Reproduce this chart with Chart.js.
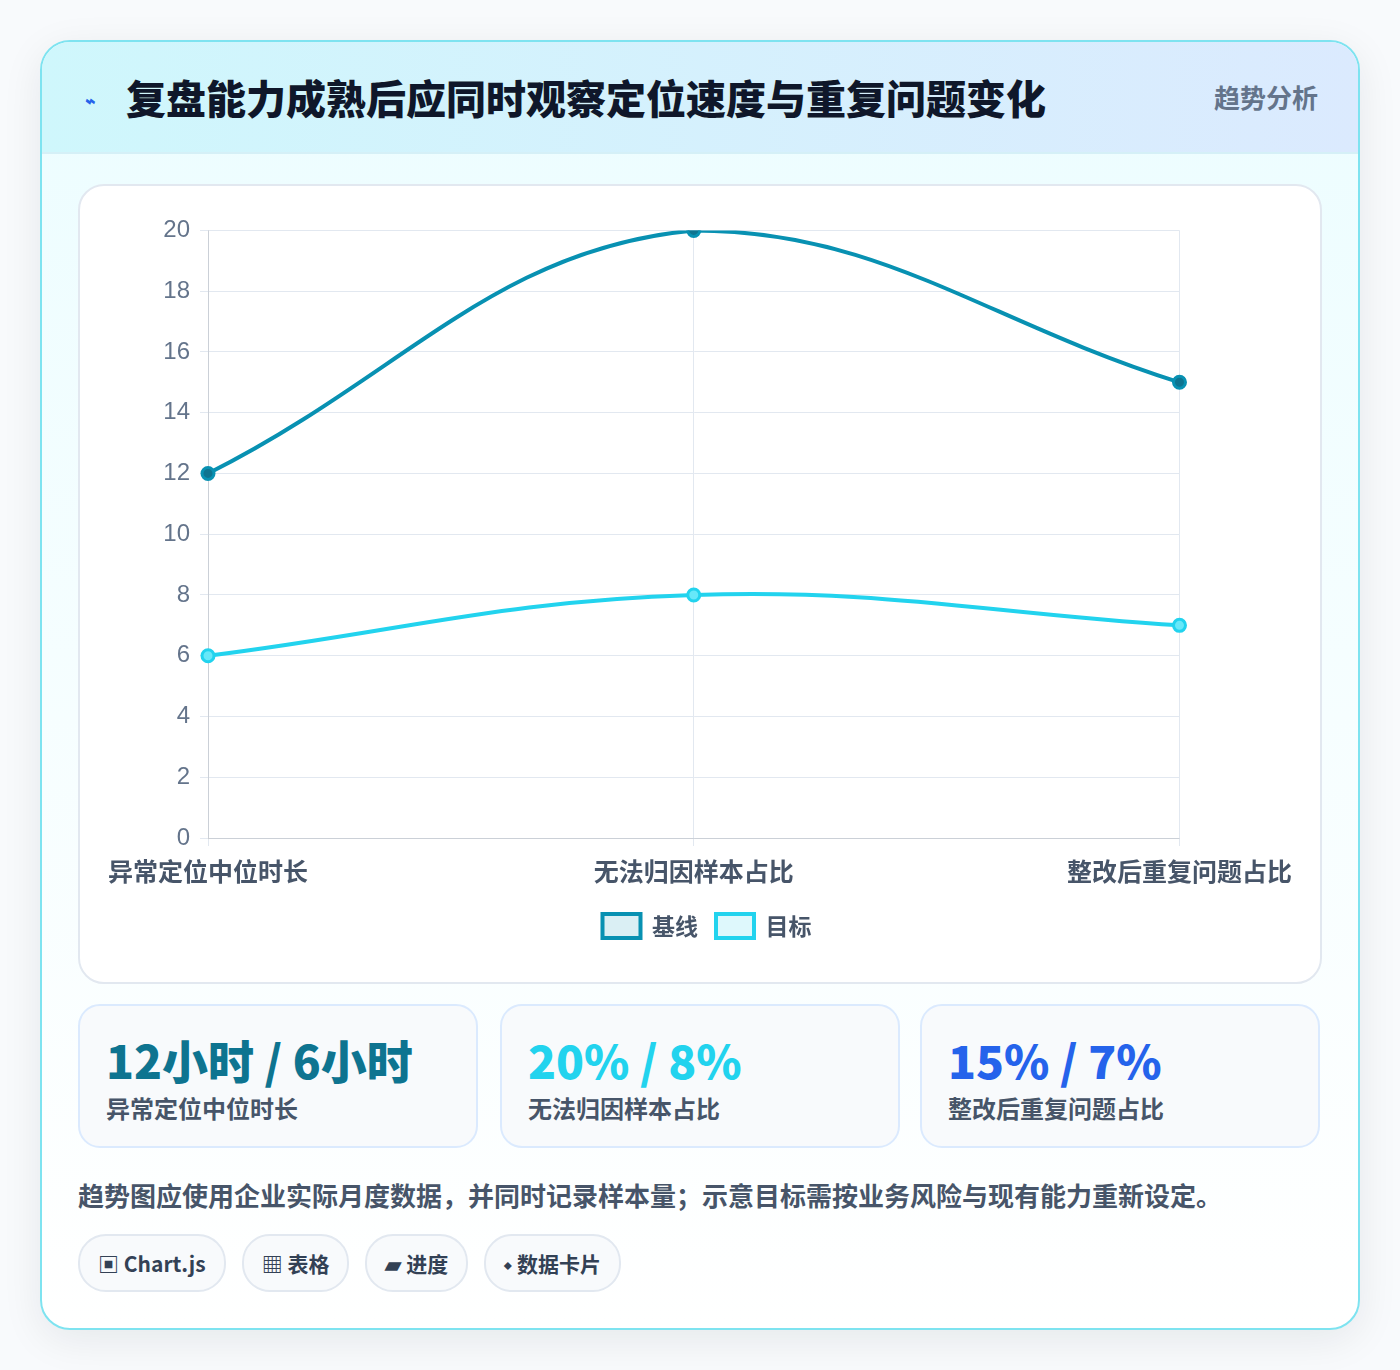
<!DOCTYPE html>
<html><head><meta charset="utf-8">
<script src="https://cdn.jsdelivr.net/npm/chart.js@4"></script>
<style>
body{margin:0;background:#f8fafc;font-family:"Noto Sans CJK SC","Noto Sans",sans-serif;width:1400px;height:1370px}
.card{position:absolute;left:40px;top:40px;width:1316px;height:1286px;border:2px solid #7ee3f0;border-radius:30px;background:linear-gradient(#ecfdff,#ffffff);box-shadow:0 10px 40px rgba(15,23,42,.08);overflow:hidden}
.head{height:110px;background:linear-gradient(90deg,#cff7fc,#dbeafe);border-bottom:2px solid #d5f0f7;position:relative}
.head h1{position:absolute;left:84px;top:26px;margin:0;font-size:40px;font-weight:900;color:#0f172a;letter-spacing:0}
.head .ic{position:absolute;left:44px;top:44px;color:#2563eb;font-size:18px;font-weight:700;transform:skewX(-20deg)}
.head .tag{position:absolute;right:40px;top:36px;font-size:26px;font-weight:700;color:#64748b}
.box{position:absolute;left:36px;top:142px;width:1240px;height:796px;border:2px solid #e2e8f0;border-radius:26px;background:#fff}
.cw{position:absolute;left:18px;top:20px;width:1204px;height:760px}
.kpi{position:absolute;top:962px;width:396px;height:140px;border:2px solid #dbeafe;border-radius:22px;background:#f8fafc}
.kpi b{position:absolute;left:26px;top:20px;font-size:46px;font-weight:900}
.kpi span{position:absolute;left:26px;top:84px;font-size:24px;font-weight:700;color:#475569}
.note{position:absolute;left:36px;top:1134px;font-size:26px;font-weight:700;color:#475569}
.chips{position:absolute;left:36px;top:1192px;display:flex;gap:16px}
.chips div{height:54px;padding:0 18px;border:2px solid #e2e8f0;border-radius:28px;background:#f8fafc;font-size:21px;font-weight:700;color:#334155;line-height:54px}
</style></head><body>
<div class="card">
 <div class="head"><span class="ic">⌁</span><h1>复盘能力成熟后应同时观察定位速度与重复问题变化</h1><span class="tag">趋势分析</span></div>
 <div class="box"><div class="cw"><canvas id="c"></canvas></div></div>
 <div class="kpi" style="left:36px"><b style="color:#0e7490">12小时 / 6小时</b><span>异常定位中位时长</span></div>
 <div class="kpi" style="left:458px"><b style="color:#22d3ee">20% / 8%</b><span>无法归因样本占比</span></div>
 <div class="kpi" style="left:878px"><b style="color:#2563eb">15% / 7%</b><span>整改后重复问题占比</span></div>
 <div class="note">趋势图应使用企业实际月度数据，并同时记录样本量；示意目标需按业务风险与现有能力重新设定。</div>
 <div class="chips"><div>▣ Chart.js</div><div>▦ 表格</div><div>▰ 进度</div><div>⬩ 数据卡片</div></div>
</div>
<script>
const categories = ['异常定位中位时长', '无法归因样本占比', '整改后重复问题占比'];
const baseline = [12, 20, 15];
const target = [6, 8, 7];
const yTicks = [0, 2, 4, 6, 8, 10, 12, 14, 16, 18, 20];

new Chart(document.getElementById('c'), {
  type: 'line',
  data: {
    labels: categories,
    datasets: [
      { label: '基线', data: baseline, borderColor: '#0891b2', backgroundColor: 'rgba(8,145,178,0.15)', borderWidth: 4, tension: 0.4, pointRadius: 6, pointBorderWidth: 3, pointBackgroundColor: '#0e7490', pointBorderColor: '#0891b2' },
      { label: '目标', data: target, borderColor: '#22d3ee', backgroundColor: 'rgba(34,211,238,0.15)', borderWidth: 4, tension: 0.4, pointRadius: 6, pointBorderWidth: 3, pointBackgroundColor: '#67e8f9', pointBorderColor: '#22d3ee' }
    ]
  },
  options: {
    responsive: true, maintainAspectRatio: false, animation: false,
    layout: { padding: { left: 44, right: 30, top: 14, bottom: 18 } },
    plugins: {
      legend: { position: 'bottom', labels: { padding: 18, boxWidth: 38, boxHeight: 24, color: '#475569', font: { size: 23, weight: 'bold', family: 'Noto Sans CJK SC' } } }
    },
    scales: {
      x: { grid: { color: '#e2e8f0' }, ticks: { padding: 10, color: '#475569', font: { size: 25, weight: 'bold', family: 'Noto Sans CJK SC' } } },
      y: { min: 0, max: 20, afterBuildTicks: a => { a.ticks = yTicks.map(v => ({ value: v })); }, grid: { color: '#e2e8f0' }, ticks: { padding: 10, color: '#64748b', font: { size: 24 } } }
    }
  }
});
</script>
</body></html>
